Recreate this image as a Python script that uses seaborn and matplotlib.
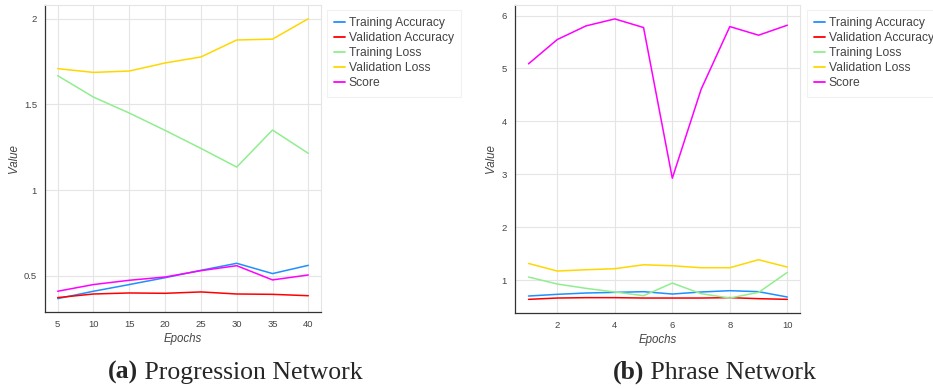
import numpy as np
import pandas as pd
import matplotlib
matplotlib.use("Agg")
import matplotlib.pyplot as plt
from matplotlib.ticker import MultipleLocator
import seaborn as sns

metrics = ["Training Accuracy", "Validation Accuracy", "Training Loss", "Validation Loss", "Score"]
colors = ["#1E90FF", "#FF0000", "#90EE90", "#FFD700", "#FF00FF"]

# (a) Progression Network
prog_epochs = [5, 10, 15, 20, 25, 30, 35, 40]
prog_train_acc = [0.368, 0.411, 0.450, 0.490, 0.533, 0.574, 0.514, 0.562]
prog_val_acc = [0.374, 0.395, 0.401, 0.399, 0.407, 0.395, 0.393, 0.385]
prog_train_loss = [1.668, 1.543, 1.450, 1.349, 1.244, 1.135, 1.351, 1.215]
prog_val_loss = [1.709, 1.687, 1.695, 1.742, 1.777, 1.876, 1.881, 2.000]
prog_score = [0.411, 0.450, 0.475, 0.494, 0.531, 0.560, 0.477, 0.506]

# (b) Phrase Network
phr_epochs = [1, 2, 3, 4, 5, 6, 7, 8, 9, 10]
phr_train_acc = [0.698, 0.730, 0.755, 0.767, 0.780, 0.736, 0.774, 0.799, 0.780, 0.679]
phr_val_acc = [0.635, 0.660, 0.667, 0.667, 0.660, 0.660, 0.660, 0.667, 0.648, 0.635]
phr_train_loss = [1.057, 0.925, 0.843, 0.774, 0.704, 0.943, 0.742, 0.660, 0.767, 1.145]
phr_val_loss = [1.314, 1.170, 1.195, 1.214, 1.289, 1.270, 1.233, 1.233, 1.384, 1.245]
phr_score = [5.088, 5.547, 5.805, 5.937, 5.774, 2.925, 4.604, 5.792, 5.629, 5.818]


def to_long(epochs, series):
    frames = []
    for name, vals in zip(metrics, series):
        frames.append(pd.DataFrame({"Epochs": epochs, "Value": vals, "Metric": name}))
    return pd.concat(frames, ignore_index=True)


prog_df = to_long(prog_epochs, [prog_train_acc, prog_val_acc, prog_train_loss, prog_val_loss, prog_score])
phr_df = to_long(phr_epochs, [phr_train_acc, phr_val_acc, phr_train_loss, phr_val_loss, phr_score])

sns.set_style("white")
plt.rcParams["font.family"] = ["Liberation Sans", "DejaVu Sans"]

W, H = 933, 389
fig = plt.figure(figsize=(W / 100, H / 100), dpi=100)


def px_axes(x0, y0, x1, y1):
    return fig.add_axes([x0 / W, 1 - y1 / H, (x1 - x0) / W, (y1 - y0) / H])


def style_axes(ax, xlim, ylim, xmaj, xmin, ymaj, ymin):
    ax.set_xlim(*xlim)
    ax.set_ylim(*ylim)
    ax.xaxis.set_major_locator(MultipleLocator(xmaj))
    ax.xaxis.set_minor_locator(MultipleLocator(xmin))
    ax.yaxis.set_major_locator(MultipleLocator(ymaj))
    ax.yaxis.set_minor_locator(MultipleLocator(ymin))
    ax.yaxis.set_major_formatter(plt.FuncFormatter(lambda v, p: f"{v:g}"))
    ax.grid(True, which="major", color="#e5e5e5", lw=0.8)
    ax.set_axisbelow(True)
    for s in ["top", "right"]:
        ax.spines[s].set_color("#e5e5e5")
        ax.spines[s].set_linewidth(0.8)
    for s in ["left", "bottom"]:
        ax.spines[s].set_color("#333333")
        ax.spines[s].set_linewidth(0.9)
    ax.tick_params(which="major", direction="out", length=4.3, width=0.8, color="#333333",
                   labelsize=6.8, labelcolor="#444444", pad=1.5)
    ax.tick_params(which="minor", direction="out", length=2.9, width=0.8, color="#333333")
    ax.set_xlabel("Epochs", fontsize=8.3, style="italic", color="#444444", labelpad=3)
    ax.set_ylabel("Value", fontsize=8.3, style="italic", color="#444444", labelpad=3)


def draw(ax, df, legend_x):
    sns.lineplot(data=df, x="Epochs", y="Value", hue="Metric", hue_order=metrics,
                 palette=colors, lw=1.1, legend=False, ax=ax)
    handles = [plt.Line2D([], [], color=c, lw=1.3) for c in colors]
    leg = ax.legend(handles, metrics, loc="upper left",
                    bbox_to_anchor=(legend_x / W, 1 - 10 / H), bbox_transform=fig.transFigure,
                    fontsize=8.7, frameon=True, fancybox=False, handlelength=0.85,
                    handletextpad=0.35, labelspacing=0.25, borderpad=0.6, borderaxespad=0)
    leg.get_frame().set_edgecolor("#eeeeee")
    leg.get_frame().set_linewidth(0.8)
    for t in leg.get_texts():
        t.set_color("#444444")


ax1 = px_axes(45, 5, 321, 312)
draw(ax1, prog_df, 327)
style_axes(ax1, (3.23, 41.77), (0.29, 2.08), 5, 1, 0.5, 0.1)

ax2 = px_axes(515, 5, 800, 313)
draw(ax2, phr_df, 807)
style_axes(ax2, (0.53, 10.44), (0.377, 6.2), 2, 0.4, 1, 0.2)

serif = ["Liberation Serif", "DejaVu Serif"]
for x0, tag, name in [(108, "(a)", " Progression Network"), (613, "(b)", " Phrase Network")]:
    t = fig.text(x0 / W, (H - 379) / H, tag, fontsize=18.5, fontweight="bold",
                 family=serif, va="baseline", ha="left")
    plt.annotate(name, xy=(1, 0), xycoords=t, va="bottom", ha="left",
                 fontsize=18.5, family=serif, annotation_clip=False)

fig.savefig("out.png", dpi=100)
